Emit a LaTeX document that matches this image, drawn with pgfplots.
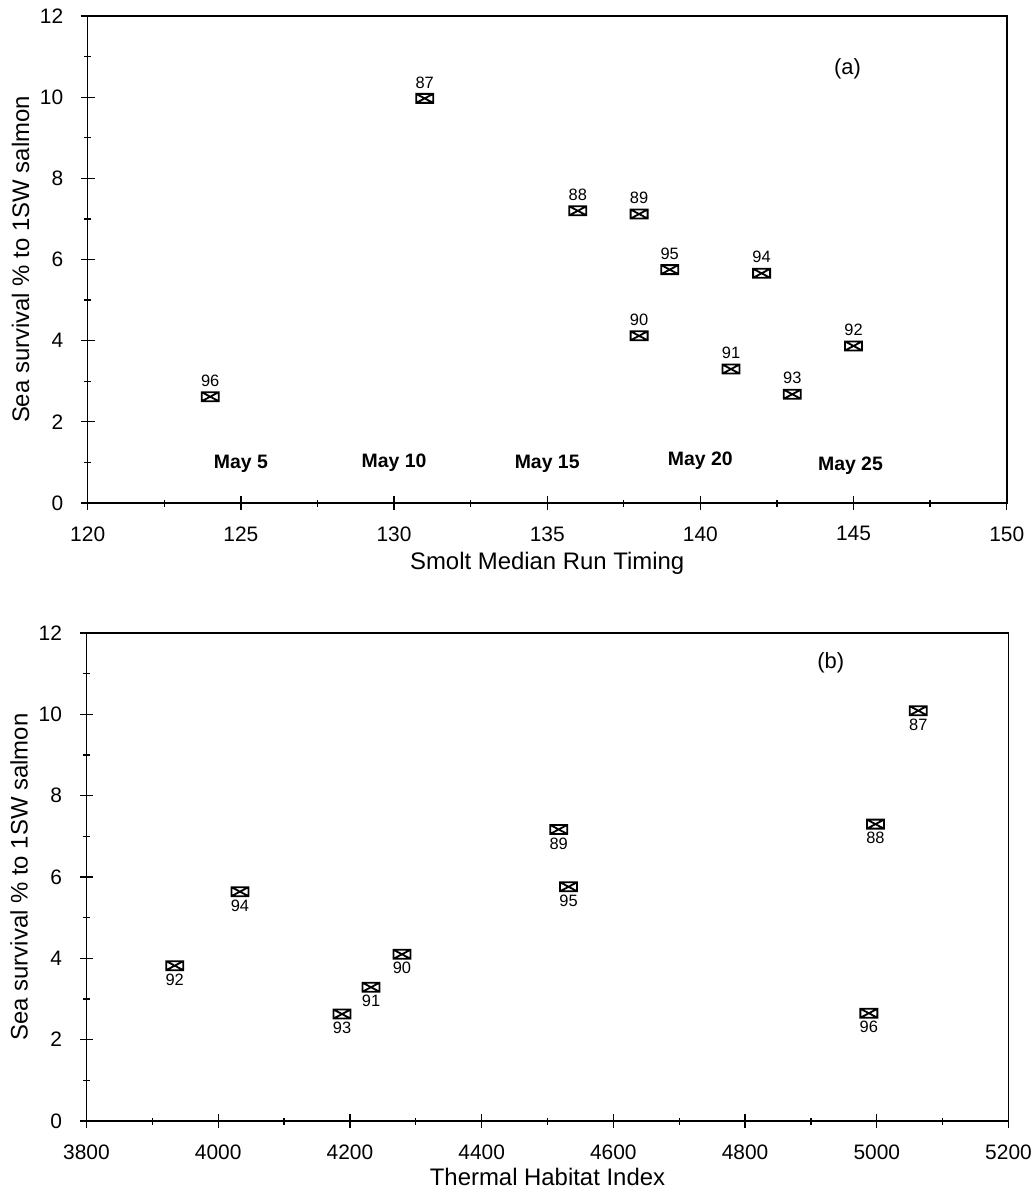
\documentclass[border=0pt]{standalone}
\usepackage{fontspec}
\setmainfont{Liberation Sans}
\usepackage{pgfplots}
\pgfplotsset{compat=1.18}
\usepackage{pgfplotstable}

\pgfdeclareplotmark{boxx}{%
  \pgfpathrectangle{\pgfpoint{-8.5bp}{-4.5bp}}{\pgfpoint{17bp}{9bp}}%
  \pgfpathmoveto{\pgfpoint{-8.5bp}{-4.5bp}}\pgfpathlineto{\pgfpoint{8.5bp}{4.5bp}}%
  \pgfpathmoveto{\pgfpoint{-8.5bp}{4.5bp}}\pgfpathlineto{\pgfpoint{8.5bp}{-4.5bp}}%
  \pgfusepathqstroke}

\pgfplotstableread{
x y lab
124 2.62 96
131 9.97 87
136 7.20 88
138 7.12 89
139 5.75 95
138 4.12 90
142 5.66 94
141 3.30 91
143 2.68 93
145 3.87 92
}\dataA

\pgfplotstableread{
x y lab
5063 10.09 87
4998 7.30 88
4517 7.17 89
4279 4.10 90
4232 3.29 91
3934 3.82 92
4188 2.63 93
4033 5.64 94
4532 5.76 95
4988 2.65 96
}\dataB

\pgfplotsset{
 myaxis/.style={
  scale only axis,
  axis line style={line width=1.6bp},
  tick style={line width=1.3bp, black},
  tick align=center,
  major tick length=14bp,
  minor tick length=7bp,
  xtick pos=left, ytick pos=left,
  ymin=0, ymax=12, ytick={0,2,...,12}, minor y tick num=1,
  minor x tick num=1,
  tick label style={font=\fontsize{21}{21}\selectfont},
  /pgf/number format/assume math mode=true,
  /pgf/number format/1000 sep={},
  yticklabel style={xshift=-14bp},
  xticklabel style={yshift=-13bp},
  ylabel={Sea survival \% to 1SW salmon},
  every axis y label/.style={at={(axis description cs:-0.073,0.5)}, rotate=90, anchor=center, font=\fontsize{24}{24}\selectfont},
  clip=false,
 },
 myplot/.style={only marks, mark=boxx, line width=1.8bp, black,
  nodes near coords, point meta=explicit symbolic,
  every node near coord/.append style={font=\fontsize{16.5}{16.5}\selectfont, anchor=center, inner sep=0pt, line width=0pt}},
}

\begin{document}
\begin{tikzpicture}
\begin{axis}[myaxis,
  at={(0bp,0bp)}, anchor=north west,
  width=919bp, height=487bp,
  xmin=120, xmax=150, xtick={120,125,...,150},
  xlabel={Smolt Median Run Timing},
  every axis x label/.style={at={(axis description cs:0.5,-0.123)}, anchor=center, font=\fontsize{24}{24}\selectfont},
]
\addplot[myplot, every node near coord/.append style={yshift=16bp}] table[x=x,y=y,meta=lab] {\dataA};
\node[font=\bfseries\fontsize{19.5}{19.5}\selectfont] at (axis cs:125,0.96) {May 5};
\node[font=\bfseries\fontsize{19.5}{19.5}\selectfont] at (axis cs:130,1.0) {May 10};
\node[font=\bfseries\fontsize{19.5}{19.5}\selectfont] at (axis cs:135,0.96) {May 15};
\node[font=\bfseries\fontsize{19.5}{19.5}\selectfont] at (axis cs:140,1.03) {May 20};
\node[font=\bfseries\fontsize{19.5}{19.5}\selectfont] at (axis cs:144.9,0.91) {May 25};
\node[font=\fontsize{22}{22}\selectfont] at (axis cs:144.8,10.7) {(a)};
\end{axis}
\begin{axis}[myaxis,
  at={(-1.2bp,-617bp)}, anchor=north west,
  width=922bp, height=488bp,
  xmin=3800, xmax=5200, xtick={3800,4000,...,5200},
  xlabel={Thermal Habitat Index},
  every axis x label/.style={at={(axis description cs:0.5,-0.115)}, anchor=center, font=\fontsize{24}{24}\selectfont},
]
\addplot[myplot, every node near coord/.append style={yshift=-14bp}] table[x=x,y=y,meta=lab] {\dataB};
\node[font=\fontsize{22}{22}\selectfont] at (axis cs:4930,11.26) {(b)};
\end{axis}
\pgfresetboundingbox
\path[use as bounding box] (-87.7bp,16bp) rectangle (948.3bp,-1179bp);
\end{tikzpicture}
\end{document}
